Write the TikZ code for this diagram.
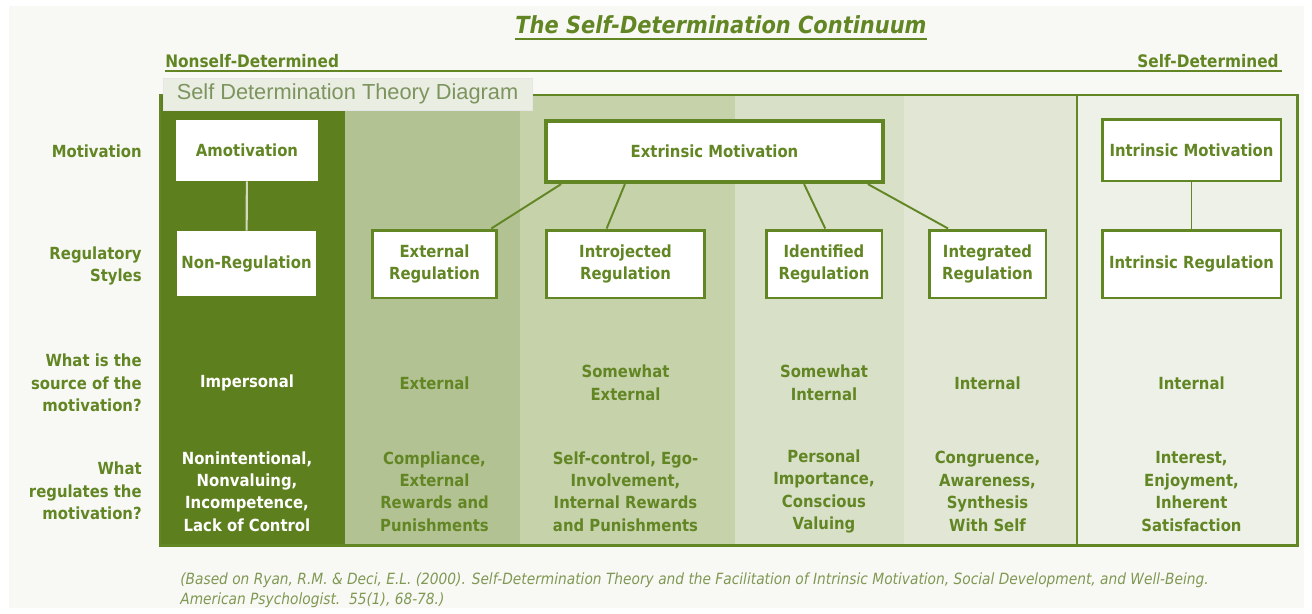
\documentclass[tikz,border=0pt]{standalone}
\usepackage{fontspec}
\setmainfont{DejaVu Sans}[FakeStretch=0.89]
\newfontfamily\tipfont{Liberation Sans}
\begin{document}
\begin{tikzpicture}[x=0.02cm, y=-0.02cm,
    lbl/.style={font=\bfseries\fontsize{9.5}{12.8}\selectfont, text=sdtgreen, align=center, inner sep=0pt},
    rowlbl/.style={lbl, anchor=east, align=right},
    darklbl/.style={lbl, text=white},
    plainbox/.style={lbl, fill=white},
    regbox/.style={lbl, draw=sdtgreen, fill=white, line width=1.7pt},
    link/.style={draw=sdtgreen, line width=1.1pt}]

            \definecolor{sdtgreen}{RGB}{98,134,36}
            \definecolor{darkcol}{RGB}{94,127,30}
            \definecolor{col2}{RGB}{179,194,146}
            \definecolor{col3}{RGB}{198,210,170}
            \definecolor{col4}{RGB}{216,224,199}
            \definecolor{col5}{RGB}{225,231,212}
            \definecolor{col6}{RGB}{237,241,231}
            \definecolor{pale}{RGB}{248,249,245}
            \definecolor{tipbg}{RGB}{233,237,226}
            \definecolor{tiptext}{RGB}{125,148,95}
            \definecolor{citegreen}{RGB}{128,152,84}

            \useasboundingbox (0,0) rectangle (1312,613);
            \fill[white] (0,0) rectangle (1312,613);
            \fill[pale] (9,6) rectangle (1304,608);

            % title and the continuum rule
            \node[font=\bfseries\itshape\fontsize{13.4}{16}\selectfont, text=sdtgreen, inner sep=0pt] (title) at (721,25) {The Self-Determination Continuum};
            \draw[sdtgreen, line width=0.9pt] ([yshift=-3pt]title.base west) -- ([yshift=-3pt]title.base east);
            \node[lbl, font=\bfseries\fontsize{9.8}{12}\selectfont, anchor=base west] (nonself) at (165,67) {Nonself-Determined};
            \node[lbl, font=\bfseries\fontsize{9.8}{12}\selectfont, anchor=base east] (selfdet) at (1279,67) {Self-Determined};
            \coordinate (ruleL) at (165,71);
            \coordinate (ruleR) at (1282,71);
            \draw[sdtgreen, line width=1.1pt] (ruleL) -- (ruleR);

            % columns
            \fill[darkcol] (160,95) rectangle (345,545);
            \fill[col2] (345,95) rectangle (520,545);
            \fill[col3] (520,95) rectangle (735,545);
            \fill[col4] (735,95) rectangle (904,545);
            \fill[col5] (904,95) rectangle (1077,545);
            \fill[col6] (1077,95) rectangle (1297,545);
            \draw[sdtgreen, line width=1.7pt] (160,95) rectangle (1297,545);
            \draw[sdtgreen, line width=0.8pt] (1077,95) -- (1077,545);

            \node[fill=tipbg, draw=black!10, line width=0.4pt, text=tiptext, font=\tipfont\fontsize{12.4}{14}\selectfont, minimum width=7.38cm, minimum height=0.64cm, inner sep=0pt] (tip) at (347.5,94) {Self Determination Theory Diagram};

            % row labels
            \node[rowlbl] (rmot) at (142,151) {Motivation};
            \node[rowlbl] (rreg) at (142,266) {Regulatory\\Styles};
            \node[rowlbl] (rsrc) at (142,383) {What is the\\source of the\\motivation?};
            \node[rowlbl] (rwhat) at (142,491) {What\\regulates the\\motivation?};

            % motivation and regulatory styles
            \node[plainbox, minimum width=2.84cm, minimum height=1.22cm] (amot) at (247,150.5) {Amotivation};
            \node[plainbox, minimum width=2.78cm, minimum height=1.3cm] (nonreg) at (246.5,263.5) {Non-Regulation};
            \node[regbox, line width=2.4pt, minimum width=6.74cm, minimum height=1.22cm] (extrmot) at (714.5,151.5) {Extrinsic Motivation};
            \node[regbox, minimum width=2.5cm, minimum height=1.36cm] (extreg) at (434.5,264) {External\\Regulation};
            \node[regbox, minimum width=3.18cm, minimum height=1.36cm] (introreg) at (625.5,264) {Introjected\\Regulation};
            \node[regbox, minimum width=2.32cm, minimum height=1.36cm] (identreg) at (824,264) {Identified\\Regulation};
            \node[regbox, minimum width=2.34cm, minimum height=1.36cm] (integreg) at (987.5,264) {Integrated\\Regulation};
            \node[regbox, minimum width=3.58cm, minimum height=1.24cm] (intrmot) at (1191.5,150) {Intrinsic Motivation};
            \node[regbox, minimum width=3.58cm, minimum height=1.36cm] (intrreg) at (1191.5,264) {Intrinsic Regulation};

            \draw[draw=col2!60!white, line width=1.2pt] (amot) -- (nonreg);
            \draw[link] (extrmot.-168) -- (extreg.32);
            \draw[link] (extrmot.-160) -- (introreg.118);
            \draw[link] (extrmot.-20) -- (identreg.88);
            \draw[link] (extrmot.-12) -- (integreg.138);
            \draw[link] (intrmot) -- (intrreg);

            % source of the motivation
            \node[darklbl] (src1) at (247,383) {Impersonal};
            \node[lbl] (src2) at (434.5,383) {External};
            \node[lbl] (src3) at (625.5,383) {Somewhat\\External};
            \node[lbl] (src4) at (824,383) {Somewhat\\Internal};
            \node[lbl] (src5) at (987.5,383) {Internal};
            \node[lbl] (src6) at (1191.5,383) {Internal};

            % what regulates it
            \node[darklbl] (what1) at (247,491.5) {Nonintentional,\\Nonvaluing,\\Incompetence,\\Lack of Control};
            \node[lbl] (what2) at (434.5,491.5) {Compliance,\\External\\Rewards and\\Punishments};
            \node[lbl] (what3) at (625.5,491.5) {Self-control, Ego-\\Involvement,\\Internal Rewards\\and Punishments};
            \node[lbl] (what4) at (824,491.5) {Personal\\Importance,\\Conscious\\Valuing};
            \node[lbl] (what5) at (987.5,491.5) {Congruence,\\Awareness,\\Synthesis\\With Self};
            \node[lbl] (what6) at (1191.5,491.5) {Interest,\\Enjoyment,\\Inherent\\Satisfaction};

            \node[anchor=north west, align=left, inner sep=0pt, text=citegreen, font=\itshape\fontsize{8.8}{11.4}\selectfont] (cite) at (180,572) {(Based on Ryan, R.M. \& Deci, E.L. (2000). Self-Determination Theory and the Facilitation of Intrinsic Motivation, Social Development, and Well-Being.\\American Psychologist.\ \ 55(1), 68-78.)};

        \end{tikzpicture}
\end{document}
